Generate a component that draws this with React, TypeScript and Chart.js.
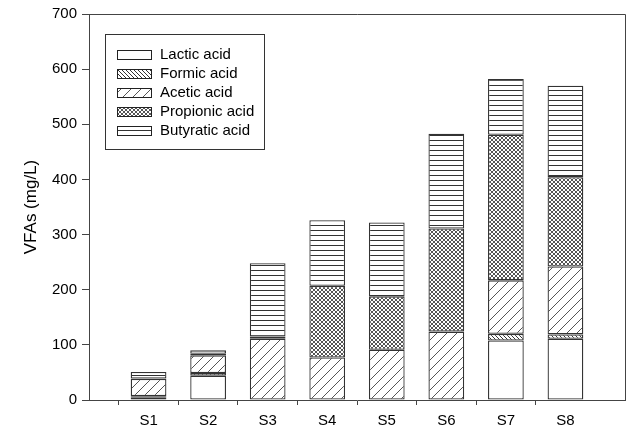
import React, { useEffect, useRef } from 'react';
import { Chart, registerables } from 'chart.js';

Chart.register(...registerables);

const categories = ['S1', 'S2', 'S3', 'S4', 'S5', 'S6', 'S7', 'S8'];
const seriesNames = ['Lactic acid', 'Formic acid', 'Acetic acid', 'Propionic acid', 'Butyratic acid'];
const lactic = [4, 44, 0, 0, 0, 0, 108, 111];
const formic = [3, 5, 0, 0, 0, 0, 12, 8];
const acetic = [31, 32, 111, 77, 91, 124, 97, 123];
const propionic = [1, 3, 4, 130, 97, 187, 264, 162];
const butyratic = [12, 6, 133, 119, 134, 172, 101, 166];
const yTicks = [0, 100, 200, 300, 400, 500, 600, 700];

const FONT = '"Liberation Sans", Arial, sans-serif';
const LINE = '#444';

function makePattern(kind: string): CanvasPattern | string {
  const c = document.createElement('canvas');
  let w = 4, h = 4;
  if (kind === 'acetic') { w = 10; h = 10; }
  if (kind === 'butyratic') { w = 8; h = 5; }
  c.width = w; c.height = h;
  const g = c.getContext('2d')!;
  g.fillStyle = '#fff';
  g.fillRect(0, 0, w, h);
  g.strokeStyle = '#333';
  g.lineWidth = 1;
  g.beginPath();
  if (kind === 'formic') {
    g.moveTo(-1, -1); g.lineTo(5, 5);
    g.moveTo(-1, 3); g.lineTo(1, 5);
    g.moveTo(3, -1); g.lineTo(5, 1);
  } else if (kind === 'acetic') {
    g.strokeStyle = '#555';
    g.moveTo(-1, 11); g.lineTo(11, -1);
    g.moveTo(-1, 1); g.lineTo(1, -1);
    g.moveTo(9, 11); g.lineTo(11, 9);
  } else if (kind === 'propionic') {
    g.strokeStyle = '#555';
    g.moveTo(-1, -1); g.lineTo(5, 5);
    g.moveTo(-1, 5); g.lineTo(5, -1);
  } else if (kind === 'butyratic') {
    g.moveTo(0, 0.5); g.lineTo(w, 0.5);
  }
  g.stroke();
  const ctx = document.createElement('canvas').getContext('2d')!;
  return ctx.createPattern(c, 'repeat') || '#fff';
}

export default function App() {
  const ref = useRef<HTMLCanvasElement | null>(null);

  useEffect(() => {
    document.body.style.margin = '0';
    const canvas = ref.current!;
    const fills = [
      '#ffffff',
      makePattern('formic'),
      makePattern('acetic'),
      makePattern('propionic'),
      makePattern('butyratic'),
    ];
    const series = [lactic, formic, acetic, propionic, butyratic];
    const labels = ['', ...categories, ''];

    const framePlugin = {
      id: 'frameAndLegend',
      afterDraw(chart: any) {
        const { ctx, chartArea } = chart;
        ctx.save();
        ctx.strokeStyle = LINE;
        ctx.lineWidth = 1;
        ctx.beginPath();
        ctx.moveTo(chartArea.left, chartArea.top + 0.5);
        ctx.lineTo(chartArea.right + 0.5, chartArea.top + 0.5);
        ctx.lineTo(chartArea.right + 0.5, chartArea.bottom);
        ctx.stroke();

        const lx = chartArea.left + 16;
        const ly = chartArea.top + 20;
        const lw = 159;
        const lh = 115;
        ctx.fillStyle = '#fff';
        ctx.fillRect(lx, ly, lw, lh);
        ctx.strokeStyle = '#333';
        ctx.strokeRect(lx + 0.5, ly + 0.5, lw, lh);
        ctx.font = '15px ' + FONT;
        ctx.textBaseline = 'middle';
        ctx.textAlign = 'left';
        seriesNames.forEach((name, i) => {
          const cy = ly + 20 + i * 19;
          const sx = lx + 12.5;
          const sy = Math.round(cy - 4.5) + 0.5;
          ctx.fillStyle = fills[i] as any;
          ctx.fillRect(sx, sy, 34, 9);
          ctx.strokeStyle = '#222';
          ctx.strokeRect(sx, sy, 34, 9);
          ctx.fillStyle = '#000';
          ctx.fillText(name, lx + 55, cy + 0.5);
        });
        ctx.restore();
      },
    };

    const chart = new Chart(canvas, {
      type: 'bar',
      data: {
        labels,
        datasets: series.map((arr, i) => ({
          label: seriesNames[i],
          data: [null, ...arr.map((v) => (v ? v : null)), null],
          backgroundColor: fills[i] as any,
          borderColor: '#333',
          borderWidth: 1.3,
          borderSkipped: false,
          categoryPercentage: 0.6,
          barPercentage: 1,
        })),
      },
      options: {
        animation: false,
        responsive: false,
        devicePixelRatio: 1,
        layout: { padding: { top: 12, right: 4, left: 0, bottom: 0 } },
        plugins: { legend: { display: false }, tooltip: { enabled: false } },
        scales: {
          x: {
            stacked: true,
            offset: false,
            grid: {
              display: true,
              drawOnChartArea: false,
              drawTicks: true,
              tickLength: 5,
              tickColor: (c: any) => (c.index === 0 || c.index === labels.length - 1 ? 'rgba(0,0,0,0)' : LINE),
            },
            border: { display: true, color: LINE, width: 1 },
            ticks: {
              autoSkip: false,
              maxRotation: 0,
              padding: 7,
              color: '#000',
              font: { size: 15, family: FONT },
            },
            afterFit: (s: any) => { s.height = 30; },
          },
          y: {
            stacked: true,
            min: 0,
            max: 700,
            grid: {
              display: true,
              drawOnChartArea: false,
              drawTicks: true,
              tickLength: 7,
              tickColor: LINE,
            },
            border: { display: true, color: LINE, width: 1 },
            ticks: {
              padding: 5,
              color: '#000',
              font: { size: 15, family: FONT },
            },
            afterBuildTicks: (s: any) => { s.ticks = yTicks.map((v) => ({ value: v })); },
            title: {
              display: true,
              text: 'VFAs (mg/L)',
              color: '#000',
              font: { size: 17, family: FONT },
              padding: { top: 21, bottom: 0 },
            },
            afterFit: (s: any) => { s.width = 89; },
          },
        },
      },
      plugins: [framePlugin],
    });
    return () => chart.destroy();
  }, []);

  return (
    <div style={{ width: 632, height: 430 }}>
      <canvas ref={ref} width={632} height={430} style={{ display: 'block', width: 632, height: 430 }} />
    </div>
  );
}
